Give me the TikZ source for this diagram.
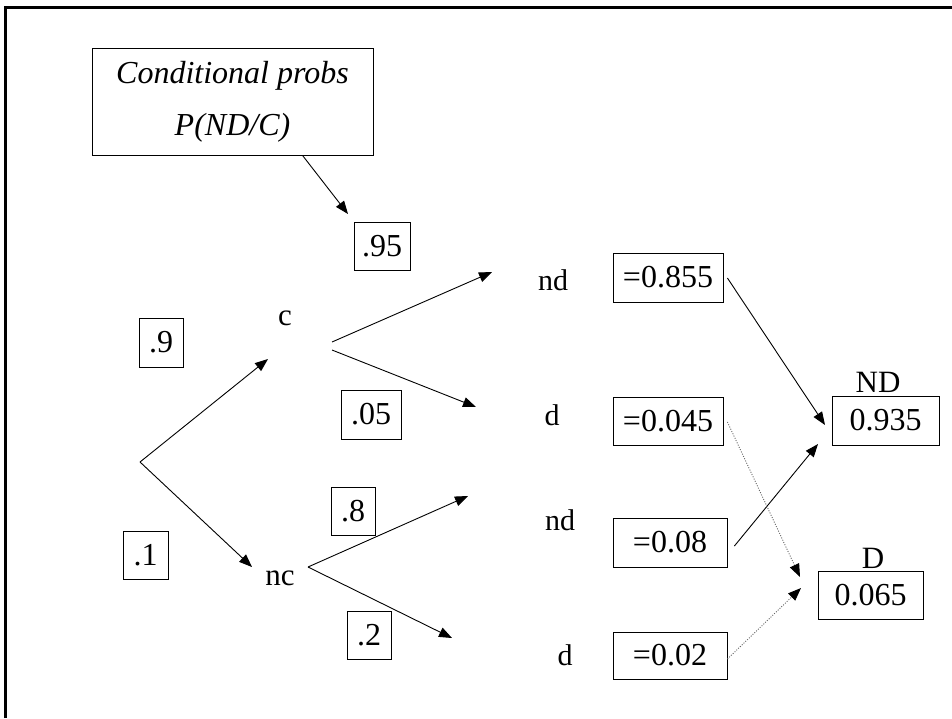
\documentclass[tikz,border=0pt]{standalone}
\usepackage{fontspec}
\setmainfont{Liberation Serif}
\usetikzlibrary{arrows.meta}
\begin{document}
\begin{tikzpicture}[x=1pt,y=-1pt,
  pbox/.style={draw, line width=0.8pt, inner sep=0pt, font=\fontsize{32}{38}\selectfont},
  lbl/.style={inner sep=0pt, anchor=base, font=\fontsize{31}{36}\selectfont},
  sublbl/.style={lbl, font=\fontsize{30}{35}\selectfont},
  arr/.style={line width=0.9pt, -{Triangle[length=13pt,width=10pt]}},
  dotarr/.style={line width=0.9pt, draw=black!60, dash pattern=on 1pt off 1.5pt,
    -{Triangle[length=13pt,width=10pt,fill=black,color=black]}}]
\useasboundingbox (0,0) rectangle (952,718);
% frame
\draw[line width=3pt] (5.5,718) -- (5.5,7.5) -- (952,7.5);
% boxes
\node[pbox, minimum width=281pt, minimum height=107pt, align=center,
  font=\fontsize{32}{52}\selectfont\itshape] (cond) at (232.5,101.5) {Conditional probs\\P(ND/C)};
\node[pbox, minimum width=56pt, minimum height=48pt] (p95) at (382,246) {.95};
\node[pbox, minimum width=44pt, minimum height=49pt] (p9) at (161,342.5) {.9};
\node[pbox, minimum width=60pt, minimum height=49pt] (p05) at (371,414.5) {.05};
\node[pbox, minimum width=45pt, minimum height=48pt] (p1) at (145.5,555) {.1};
\node[pbox, minimum width=44pt, minimum height=48pt] (p8) at (353,511) {.8};
\node[pbox, minimum width=44pt, minimum height=48pt] (p2) at (369,635) {.2};
\node[pbox, minimum width=110pt, minimum height=49pt] (v855) at (668,277.5) {=0.855};
\node[pbox, minimum width=110pt, minimum height=48pt] (v045) at (668,421) {=0.045};
\node[pbox, minimum width=114pt, minimum height=49pt] (v08) at (670,542.5) {=0.08};
\node[pbox, minimum width=114pt, minimum height=47pt] (v02) at (670,655.5) {=0.02};
\node[pbox, minimum width=107pt, minimum height=49pt] (vND) at (885.5,420.5) {0.935};
\node[pbox, minimum width=105pt, minimum height=48pt] (vD) at (870.5,595) {0.065};
% labels
\node[lbl] (c) at (285,325) {c};
\node[lbl] (nc) at (280,585) {nc};
\node[sublbl] (nd1) at (553,290) {nd};
\node[sublbl] (d1) at (552,425) {d};
\node[sublbl] (nd2) at (560,530) {nd};
\node[sublbl] (d2) at (565,665) {d};
\node[lbl] (ND) at (878,392) {ND};
\node[lbl] (D) at (873,568) {D};
% coordinates
\coordinate (root) at (140,462);
\coordinate (t95) at (348,214);
\coordinate (tc) at (268,359);
\coordinate (tnc) at (252,567);
\coordinate (cu) at (332,342);
\coordinate (cd) at (332,350);
\coordinate (tnd1) at (492,272);
\coordinate (td1) at (476,407);
\coordinate (ncs) at (308,567);
\coordinate (tnd2) at (468,496);
\coordinate (td2) at (452,638);
\coordinate (tND1) at (825,425);
\coordinate (tND2) at (818,444);
\coordinate (tD1) at (800,577);
\coordinate (tD2) at (801,588);
% arrows
\draw[arr] ([xshift=70pt]cond.south) -- (t95);
\draw[arr] (root) -- (tc);
\draw[arr] (root) -- (tnc);
\draw[arr] (cu) -- (tnd1);
\draw[arr] (cd) -- (td1);
\draw[arr] (ncs) -- (tnd2);
\draw[arr] (ncs) -- (td2);
\draw[arr] ([xshift=4pt,yshift=-0.5pt]v855.east) -- (tND1);
\draw[arr] ([xshift=7pt,yshift=-3.5pt]v08.east) -- (tND2);
\draw[dotarr] ([xshift=4pt,yshift=-1pt]v045.east) -- (tD1);
\draw[dotarr] ([yshift=-3.5pt]v02.east) -- (tD2);
\end{tikzpicture}
\end{document}
